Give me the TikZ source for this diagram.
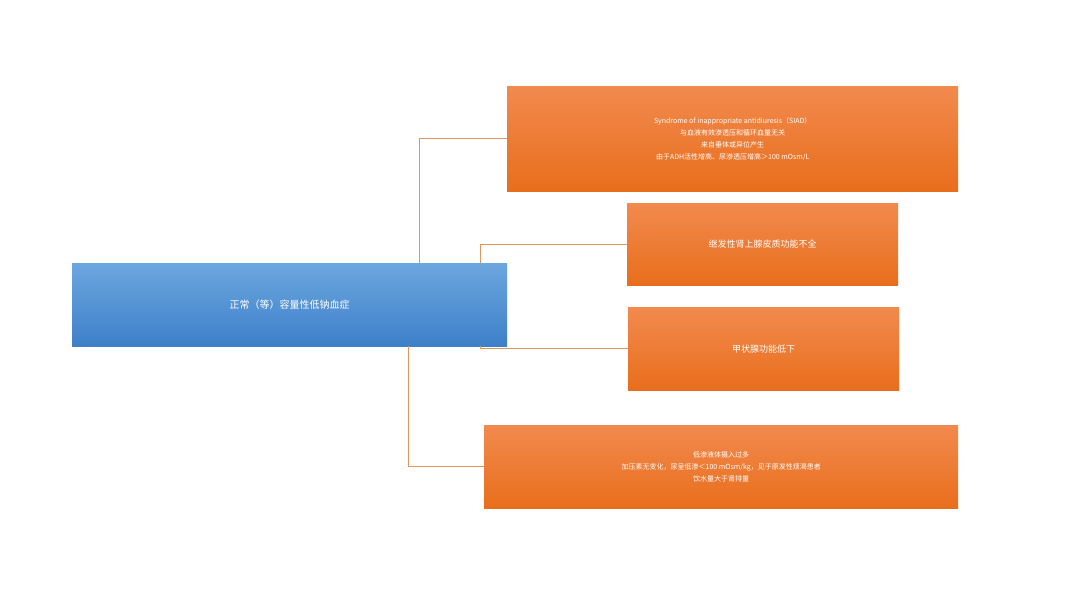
\documentclass[tikz,border=0pt]{standalone}
\usepackage{fontspec}
\setmainfont{Noto Sans CJK SC}
\definecolor{otop}{HTML}{F28A4E}
\definecolor{obot}{HTML}{E86E1C}
\definecolor{btop}{HTML}{6CA6DF}
\definecolor{bbot}{HTML}{3D80C9}
\definecolor{lnk}{HTML}{E0955E}
\begin{document}
\begin{tikzpicture}[x=1pt,y=-1pt,
  obox/.style={draw=none,top color=otop,bottom color=obot,text=white,align=center,anchor=north west,inner sep=0pt,font=\fontsize{7}{12}\selectfont},
  bbox/.style={draw=none,top color=btop,bottom color=bbot,text=white,align=center,anchor=north west,inner sep=0pt,font=\fontsize{10}{12}\selectfont},
  lk/.style={draw=lnk,line width=0.8pt}]
\useasboundingbox (0,0) rectangle (1080,608);
\fill[white] (0,0) rectangle (1080,608);
\node[bbox,minimum width=435pt,minimum height=83pt] (m) at (72,263) {正常（等）容量性低钠血症};
\node[obox,minimum width=451pt,minimum height=105pt] (a) at (507,86) {Syndrome of inappropriate antidiuresis（SIAD）\\与血液有效渗透压和循环血量无关\\来自垂体或异位产生\\由于ADH活性增高、尿渗透压增高＞100 mOsm/L};
\node[obox,minimum width=271pt,minimum height=82pt,font=\fontsize{9}{12}\selectfont] (b) at (627,203) {继发性肾上腺皮质功能不全};
\node[obox,minimum width=271pt,minimum height=83pt,font=\fontsize{9}{12}\selectfont] (c) at (628,307) {甲状腺功能低下};
\node[obox,minimum width=474pt,minimum height=83pt] (d) at (484,425) {低渗液体摄入过多\\加压素无变化，尿呈低渗＜100 mOsm/kg，见于原发性烦渴患者\\饮水量大于肾排量};
\coordinate (ta) at (419,263);
\coordinate (tb) at (480,263);
\coordinate (bc) at (480,346);
\coordinate (bd) at (408,346);
\draw[lk] (a.west) -| (ta);
\draw[lk] (b.west) -| (tb);
\draw[lk] (c.west) -| (bc);
\draw[lk] (d.west) -| (bd);
\end{tikzpicture}
\end{document}
